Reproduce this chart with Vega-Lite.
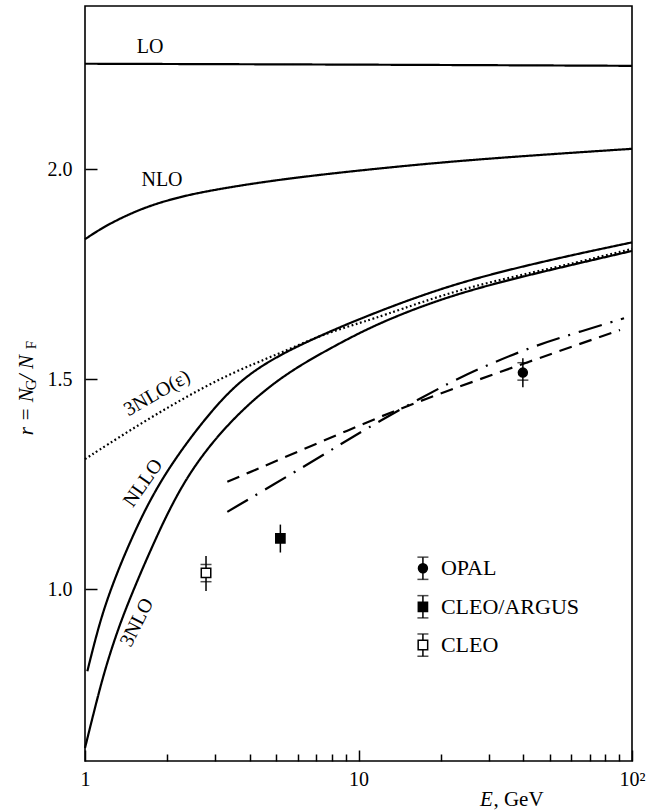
{
  "$schema": "https://vega.github.io/schema/vega-lite/v6.json",
  "width": 547,
  "height": 755,
  "autosize": {"type": "none"},
  "padding": {"left": 85, "top": 6, "right": 27, "bottom": 50},
  "config": {
    "font": "Liberation Serif, Times New Roman, serif",
    "text": {"font": "Liberation Serif, Times New Roman, serif", "color": "black"},
    "view": {"stroke": "black", "strokeWidth": 1.6},
    "axis": {"labelFont": "Liberation Serif, Times New Roman, serif", "labelColor": "black", "tickColor": "black", "domain": false, "grid": false}
  },
  "datasets": {
    "curves": [
      {"curve": "LO", "style": "solid", "E": 1, "r": 2.2515},
      {"curve": "LO", "style": "solid", "E": 10, "r": 2.2495},
      {"curve": "LO", "style": "solid", "E": 100, "r": 2.2465},

      {"curve": "NLO", "style": "solid", "E": 1, "r": 1.8336},
      {"curve": "NLO", "style": "solid", "E": 1.135, "r": 1.8575},
      {"curve": "NLO", "style": "solid", "E": 1.35, "r": 1.884},
      {"curve": "NLO", "style": "solid", "E": 1.681, "r": 1.9113},
      {"curve": "NLO", "style": "solid", "E": 2.2, "r": 1.934},
      {"curve": "NLO", "style": "solid", "E": 2.938, "r": 1.9511},
      {"curve": "NLO", "style": "solid", "E": 5.164, "r": 1.9766},
      {"curve": "NLO", "style": "solid", "E": 11.98, "r": 2.0029},
      {"curve": "NLO", "style": "solid", "E": 27.8, "r": 2.025},
      {"curve": "NLO", "style": "solid", "E": 100, "r": 2.0489},

      {"curve": "NLLO", "style": "solid", "E": 1.0196, "r": 0.8045},
      {"curve": "NLLO", "style": "solid", "E": 1.135, "r": 0.926},
      {"curve": "NLLO", "style": "solid", "E": 1.269, "r": 1.0167},
      {"curve": "NLLO", "style": "solid", "E": 1.461, "r": 1.1144},
      {"curve": "NLLO", "style": "solid", "E": 1.88, "r": 1.2639},
      {"curve": "NLLO", "style": "solid", "E": 2.945, "r": 1.4346},
      {"curve": "NLLO", "style": "solid", "E": 4.125, "r": 1.5261},
      {"curve": "NLLO", "style": "solid", "E": 6.835, "r": 1.598},
      {"curve": "NLLO", "style": "solid", "E": 11.98, "r": 1.664},
      {"curve": "NLLO", "style": "solid", "E": 23.5, "r": 1.733},
      {"curve": "NLLO", "style": "solid", "E": 54.5, "r": 1.79},
      {"curve": "NLLO", "style": "solid", "E": 100, "r": 1.826},

      {"curve": "3NLO", "style": "solid", "E": 1, "r": 0.622},
      {"curve": "3NLO", "style": "solid", "E": 1.104, "r": 0.7354},
      {"curve": "3NLO", "style": "solid", "E": 1.2, "r": 0.8229},
      {"curve": "3NLO", "style": "solid", "E": 1.342, "r": 0.9182},
      {"curve": "3NLO", "style": "solid", "E": 1.502, "r": 0.9976},
      {"curve": "3NLO", "style": "solid", "E": 1.704, "r": 1.0818},
      {"curve": "3NLO", "style": "solid", "E": 2.288, "r": 1.2639},
      {"curve": "3NLO", "style": "solid", "E": 3.39, "r": 1.4029},
      {"curve": "3NLO", "style": "solid", "E": 5.164, "r": 1.5061},
      {"curve": "3NLO", "style": "solid", "E": 7.868, "r": 1.5738},
      {"curve": "3NLO", "style": "solid", "E": 11.98, "r": 1.6365},
      {"curve": "3NLO", "style": "solid", "E": 23.5, "r": 1.7087},
      {"curve": "3NLO", "style": "solid", "E": 54.5, "r": 1.766},
      {"curve": "3NLO", "style": "solid", "E": 100, "r": 1.8057},

      {"curve": "3NLO(eps)", "style": "dotted", "E": 1, "r": 1.31},
      {"curve": "3NLO(eps)", "style": "dotted", "E": 1.461, "r": 1.379},
      {"curve": "3NLO(eps)", "style": "dotted", "E": 2.225, "r": 1.4505},
      {"curve": "3NLO(eps)", "style": "dotted", "E": 3.39, "r": 1.514},
      {"curve": "3NLO(eps)", "style": "dotted", "E": 5.164, "r": 1.5619},
      {"curve": "3NLO(eps)", "style": "dotted", "E": 6.835, "r": 1.5976},
      {"curve": "3NLO(eps)", "style": "dotted", "E": 9.054, "r": 1.6253},
      {"curve": "3NLO(eps)", "style": "dotted", "E": 11.98, "r": 1.6484},
      {"curve": "3NLO(eps)", "style": "dotted", "E": 23.5, "r": 1.7168},
      {"curve": "3NLO(eps)", "style": "dotted", "E": 54.5, "r": 1.7683},
      {"curve": "3NLO(eps)", "style": "dotted", "E": 100, "r": 1.8105},

      {"curve": "fit A", "style": "dashed", "E": 3.314, "r": 1.2558},
      {"curve": "fit A", "style": "dashed", "E": 10.13, "r": 1.391},
      {"curve": "fit A", "style": "dashed", "E": 16.32, "r": 1.4465},
      {"curve": "fit A", "style": "dashed", "E": 43.6, "r": 1.5459},
      {"curve": "fit A", "style": "dashed", "E": 90.4, "r": 1.6174},

      {"curve": "fit B", "style": "dashdot", "E": 3.314, "r": 1.1843},
      {"curve": "fit B", "style": "dashdot", "E": 5.943, "r": 1.282},
      {"curve": "fit B", "style": "dashdot", "E": 8.204, "r": 1.3369},
      {"curve": "fit B", "style": "dashdot", "E": 11.49, "r": 1.395},
      {"curve": "fit B", "style": "dashdot", "E": 22.2, "r": 1.498},
      {"curve": "fit B", "style": "dashdot", "E": 31.6, "r": 1.5418},
      {"curve": "fit B", "style": "dashdot", "E": 44.8, "r": 1.5816},
      {"curve": "fit B", "style": "dashdot", "E": 64.5, "r": 1.6134},
      {"curve": "fit B", "style": "dashdot", "E": 93.5, "r": 1.6453}
    ],
    "obs": [
      {"series": "CLEO", "E": 2.77, "r": 1.039, "lo": 0.996, "hi": 1.079, "slo": 1.018, "shi": 1.059},
      {"series": "CLEO/ARGUS", "E": 5.18, "r": 1.121, "lo": 1.0875, "hi": 1.154},
      {"series": "OPAL", "E": 39.9, "r": 1.516, "lo": 1.481, "hi": 1.55, "slo": 1.498, "shi": 1.5395}
    ],
    "key": [
      {"series": "OPAL", "E": 17.2, "r": 1.05, "lo": 1.0235, "hi": 1.0765},
      {"series": "CLEO/ARGUS", "E": 17.2, "r": 0.9583, "lo": 0.9318, "hi": 0.9848},
      {"series": "CLEO", "E": 17.2, "r": 0.867, "lo": 0.8405, "hi": 0.8935}
    ]
  },
  "layer": [
    {
      "data": {"name": "curves"},
      "mark": {"type": "line", "interpolate": "basis", "color": "black", "strokeWidth": 2.2},
      "encoding": {
        "x": {
          "field": "E", "type": "quantitative",
          "scale": {"type": "log", "domain": [1, 100], "nice": false},
          "axis": {
            "title": null,
            "values": [1, 2, 3, 4, 5, 6, 7, 8, 9, 10, 20, 30, 40, 50, 60, 70, 80, 90, 100],
            "labelExpr": "datum.value == 100 ? '10²' : (datum.value == 10 ? '10' : (datum.value == 1 ? '1' : ''))",
            "tickSize": {"condition": {"test": "datum.value == 1 || datum.value == 10 || datum.value == 100", "value": -11}, "value": -7},
            "tickWidth": 1.5,
            "labelPadding": 19,
            "labelFontSize": 20,
            "labelFlush": false,
            "labelOverlap": false
          }
        },
        "y": {
          "field": "r", "type": "quantitative",
          "scale": {"domain": [0.591, 2.389], "nice": false, "zero": false},
          "axis": {
            "title": null,
            "values": [1.0, 1.5, 2.0],
            "format": ".1f",
            "tickSize": -12,
            "tickWidth": 1.5,
            "labelPadding": 25,
            "labelFontSize": 20
          }
        },
        "detail": {"field": "curve"},
        "strokeDash": {
          "field": "style", "type": "nominal",
          "scale": {"domain": ["solid", "dotted", "dashed", "dashdot"], "range": [[1, 0], [1.8, 2.6], [13, 8], [24, 9, 2, 9]]},
          "legend": null
        }
      }
    },
    {
      "data": {"name": "obs"},
      "mark": {"type": "rule", "color": "black", "strokeWidth": 1.5},
      "encoding": {
        "x": {"field": "E", "type": "quantitative"},
        "y": {"field": "lo", "type": "quantitative"},
        "y2": {"field": "hi"}
      }
    },
    {
      "data": {"name": "obs"},
      "mark": {"type": "tick", "orient": "horizontal", "color": "black", "size": 11, "thickness": 1.5},
      "encoding": {
        "x": {"field": "E", "type": "quantitative"},
        "y": {"field": "slo", "type": "quantitative"}
      }
    },
    {
      "data": {"name": "obs"},
      "mark": {"type": "tick", "orient": "horizontal", "color": "black", "size": 11, "thickness": 1.5},
      "encoding": {
        "x": {"field": "E", "type": "quantitative"},
        "y": {"field": "shi", "type": "quantitative"}
      }
    },
    {
      "data": {"name": "obs"},
      "mark": {"type": "point", "filled": true, "stroke": "black", "strokeWidth": 1.5, "opacity": 1},
      "encoding": {
        "x": {"field": "E", "type": "quantitative"},
        "y": {"field": "r", "type": "quantitative"},
        "shape": {"field": "series", "type": "nominal", "scale": {"domain": ["OPAL", "CLEO/ARGUS", "CLEO"], "range": ["circle", "square", "square"]}, "legend": null},
        "fill": {"field": "series", "type": "nominal", "scale": {"domain": ["OPAL", "CLEO/ARGUS", "CLEO"], "range": ["black", "black", "white"]}, "legend": null},
        "size": {"field": "series", "type": "nominal", "scale": {"domain": ["OPAL", "CLEO/ARGUS", "CLEO"], "range": [80, 90, 80]}, "legend": null}
      }
    },
    {
      "data": {"name": "key"},
      "mark": {"type": "rule", "color": "black", "strokeWidth": 1.5},
      "encoding": {
        "x": {"field": "E", "type": "quantitative"},
        "y": {"field": "lo", "type": "quantitative"},
        "y2": {"field": "hi"}
      }
    },
    {
      "data": {"name": "key"},
      "mark": {"type": "tick", "orient": "horizontal", "color": "black", "size": 11, "thickness": 1.5},
      "encoding": {
        "x": {"field": "E", "type": "quantitative"},
        "y": {"field": "lo", "type": "quantitative"}
      }
    },
    {
      "data": {"name": "key"},
      "mark": {"type": "tick", "orient": "horizontal", "color": "black", "size": 11, "thickness": 1.5},
      "encoding": {
        "x": {"field": "E", "type": "quantitative"},
        "y": {"field": "hi", "type": "quantitative"}
      }
    },
    {
      "data": {"name": "key"},
      "mark": {"type": "point", "filled": true, "stroke": "black", "strokeWidth": 1.5, "opacity": 1},
      "encoding": {
        "x": {"field": "E", "type": "quantitative"},
        "y": {"field": "r", "type": "quantitative"},
        "shape": {"field": "series", "type": "nominal", "scale": {"domain": ["OPAL", "CLEO/ARGUS", "CLEO"], "range": ["circle", "square", "square"]}, "legend": null},
        "fill": {"field": "series", "type": "nominal", "scale": {"domain": ["OPAL", "CLEO/ARGUS", "CLEO"], "range": ["black", "black", "white"]}, "legend": null},
        "size": {"field": "series", "type": "nominal", "scale": {"domain": ["OPAL", "CLEO/ARGUS", "CLEO"], "range": [80, 90, 80]}, "legend": null}
      }
    },
    {
      "data": {"name": "key"},
      "mark": {"type": "text", "align": "left", "baseline": "middle", "dx": 18, "fontSize": 22, "color": "black"},
      "encoding": {
        "x": {"field": "E", "type": "quantitative"},
        "y": {"field": "r", "type": "quantitative"},
        "text": {"field": "series"}
      }
    },
    {
      "data": {"values": [{}]},
      "mark": {"type": "text", "text": "LO", "fontSize": 20, "baseline": "middle", "color": "black"},
      "encoding": {"x": {"datum": 1.729, "type": "quantitative"}, "y": {"datum": 2.292, "type": "quantitative"}}
    },
    {
      "data": {"values": [{}]},
      "mark": {"type": "text", "text": "NLO", "fontSize": 20, "baseline": "middle", "color": "black"},
      "encoding": {"x": {"datum": 1.912, "type": "quantitative"}, "y": {"datum": 1.975, "type": "quantitative"}}
    },
    {
      "data": {"values": [{}]},
      "mark": {"type": "text", "text": "3NLO(ε)", "fontSize": 20, "baseline": "middle", "angle": 330, "color": "black"},
      "encoding": {"x": {"datum": 1.834, "type": "quantitative"}, "y": {"datum": 1.467, "type": "quantitative"}}
    },
    {
      "data": {"values": [{}]},
      "mark": {"type": "text", "text": "NLLO", "fontSize": 20, "baseline": "middle", "angle": 305, "color": "black"},
      "encoding": {"x": {"datum": 1.63, "type": "quantitative"}, "y": {"datum": 1.253, "type": "quantitative"}}
    },
    {
      "data": {"values": [{}]},
      "mark": {"type": "text", "text": "3NLO", "fontSize": 20, "baseline": "middle", "angle": 297, "color": "black"},
      "encoding": {"x": {"datum": 1.549, "type": "quantitative"}, "y": {"datum": 0.921, "type": "quantitative"}}
    },
    {
      "data": {"values": [{}]},
      "mark": {"type": "text", "text": "r = N", "fontSize": 21, "fontStyle": "italic", "align": "left", "baseline": "alphabetic", "angle": 270, "dx": 0, "color": "black"},
      "encoding": {"x": {"datum": 0.6455, "type": "quantitative"}, "y": {"datum": 1.367, "type": "quantitative"}}
    },
    {
      "data": {"values": [{}]},
      "mark": {"type": "text", "text": "G", "fontSize": 15, "align": "left", "baseline": "alphabetic", "angle": 270, "dx": 45, "dy": 3, "color": "black"},
      "encoding": {"x": {"datum": 0.6455, "type": "quantitative"}, "y": {"datum": 1.367, "type": "quantitative"}}
    },
    {
      "data": {"values": [{}]},
      "mark": {"type": "text", "text": " / N", "fontSize": 21, "fontStyle": "italic", "align": "left", "baseline": "alphabetic", "angle": 270, "dx": 55, "color": "black"},
      "encoding": {"x": {"datum": 0.6455, "type": "quantitative"}, "y": {"datum": 1.367, "type": "quantitative"}}
    },
    {
      "data": {"values": [{}]},
      "mark": {"type": "text", "text": "F", "fontSize": 15, "align": "left", "baseline": "alphabetic", "angle": 270, "dx": 86, "dy": 3, "color": "black"},
      "encoding": {"x": {"datum": 0.6455, "type": "quantitative"}, "y": {"datum": 1.367, "type": "quantitative"}}
    },
    {
      "data": {"values": [{}]},
      "mark": {"type": "text", "text": "E", "fontSize": 21, "fontStyle": "italic", "align": "left", "baseline": "alphabetic", "color": "black"},
      "encoding": {"x": {"datum": 27.8, "type": "quantitative"}, "y": {"datum": 0.4827, "type": "quantitative"}}
    },
    {
      "data": {"values": [{}]},
      "mark": {"type": "text", "text": ", GeV", "fontSize": 21, "align": "left", "baseline": "alphabetic", "dx": 13.5, "color": "black"},
      "encoding": {"x": {"datum": 27.8, "type": "quantitative"}, "y": {"datum": 0.4827, "type": "quantitative"}}
    }
  ]
}
